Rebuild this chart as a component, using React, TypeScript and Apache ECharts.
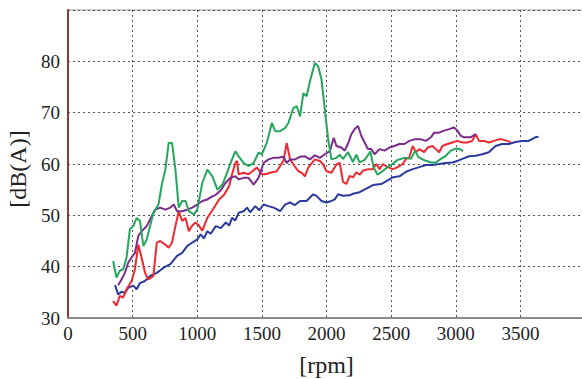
import React, { useEffect, useRef } from "react";
import * as echarts from "echarts";

const xTicks = [0, 500, 1000, 1500, 2000, 2500, 3000, 3500];
const yTicks = [30, 40, 50, 60, 70, 80];

const blueSeries: [number, number][] = [
  [364,36.4],[388,34.6],[414,35.1],[440,34.9],[466,35.9],[505,36.3],[531,35.6],[557,36.8],[596,37.2],[635,38.2],[687,38.8],[740,39.8],[792,40.5],[844,42.1],[883,42.7],[922,44.0],[961,44.7],[1000,45.3],[1026,46.3],[1052,45.5],[1078,46.9],[1104,46.4],[1143,47.9],[1182,47.5],[1221,48.6],[1247,48.0],[1269,49.5],[1295,49.0],[1320,50.5],[1359,50.8],[1385,51.5],[1410,50.6],[1449,51.8],[1480,51.0],[1513,52.1],[1550,51.8],[1590,51.5],[1615,51.2],[1641,50.8],[1679,52.1],[1718,52.5],[1756,52.0],[1795,52.8],[1846,52.8],[1897,54.1],[1923,53.8],[1961,52.8],[2000,52.5],[2038,52.8],[2064,53.1],[2090,54.1],[2128,53.8],[2179,53.9],[2205,54.2],[2256,54.5],[2308,55.2],[2359,55.9],[2423,56.1],[2474,56.8],[2513,57.4],[2564,57.6],[2615,58.5],[2667,59.0],[2718,59.4],[2769,59.8],[2820,59.8],[2872,60.0],[2923,60.2],[2974,60.3],[3013,60.6],[3051,61.0],[3103,61.5],[3154,61.6],[3205,61.9],[3256,62.3],[3308,63.5],[3359,63.9],[3410,63.9],[3462,64.3],[3513,64.5],[3564,64.5],[3615,65.2],[3640,65.3]
];

const redSeries: [number, number][] = [
  [349,33.3],[375,32.4],[401,34.3],[427,34.0],[453,35.6],[492,37.2],[518,39.5],[544,44.3],[570,41.7],[596,38.8],[622,37.5],[661,38.2],[687,44.7],[713,45.0],[753,44.3],[779,43.7],[805,44.7],[831,47.9],[857,50.8],[883,48.9],[909,49.5],[935,46.9],[961,48.0],[987,48.6],[1013,48.0],[1039,47.0],[1078,49.5],[1117,51.0],[1143,52.0],[1169,53.1],[1208,54.0],[1247,55.7],[1269,58.0],[1295,60.2],[1308,60.6],[1320,58.0],[1359,58.3],[1397,58.0],[1436,58.8],[1462,59.3],[1500,58.0],[1526,58.0],[1564,58.3],[1615,58.6],[1667,60.6],[1692,64.1],[1718,60.9],[1744,59.9],[1782,58.6],[1808,58.3],[1833,57.6],[1859,59.3],[1910,60.9],[1949,60.6],[1974,59.9],[2000,58.6],[2038,58.3],[2077,59.9],[2103,60.2],[2128,56.5],[2154,56.1],[2179,57.7],[2205,57.4],[2231,58.4],[2256,57.9],[2282,58.7],[2321,59.0],[2359,59.0],[2385,60.0],[2410,59.0],[2436,60.0],[2474,59.4],[2513,59.0],[2551,59.4],[2590,60.0],[2615,61.0],[2641,61.3],[2667,63.5],[2692,62.3],[2718,62.9],[2756,62.3],[2782,63.2],[2820,63.5],[2846,62.9],[2872,62.3],[2897,63.5],[2936,63.9],[2974,64.2],[3013,64.5],[3051,64.2],[3090,64.2],[3128,64.5],[3154,65.8],[3180,64.5],[3218,64.5],[3256,64.2],[3295,64.5],[3333,64.8],[3359,64.8],[3397,64.5],[3425,64.3]
];

const greenSeries: [number, number][] = [
  [349,41.1],[375,37.9],[401,39.2],[427,39.5],[453,41.8],[479,47.3],[505,47.9],[531,49.5],[557,48.9],[583,44.0],[609,45.3],[635,47.9],[661,50.5],[700,52.1],[726,56.0],[753,58.9],[779,64.1],[805,64.1],[831,58.9],[857,51.5],[883,52.8],[909,52.8],[935,50.8],[974,50.2],[1000,51.1],[1039,56.3],[1078,58.9],[1117,57.6],[1156,55.0],[1195,56.0],[1234,58.5],[1269,60.9],[1295,62.5],[1320,61.5],[1359,60.2],[1397,59.6],[1436,60.2],[1474,62.2],[1500,61.9],[1538,64.1],[1577,68.0],[1603,66.4],[1641,66.4],[1679,67.0],[1705,68.0],[1744,70.9],[1769,71.3],[1795,69.3],[1821,73.8],[1846,73.2],[1872,76.1],[1910,79.7],[1936,79.0],[1962,76.4],[1987,70.6],[2013,64.8],[2038,60.9],[2077,61.2],[2103,61.8],[2128,61.0],[2167,62.3],[2205,60.4],[2231,61.8],[2256,60.3],[2295,60.8],[2340,62.4],[2365,59.3],[2395,57.9],[2423,58.4],[2462,59.2],[2500,59.8],[2551,60.8],[2603,61.2],[2654,61.0],[2686,62.6],[2709,61.4],[2750,60.8],[2808,60.3],[2846,60.3],[2885,61.0],[2923,61.6],[2962,62.6],[3000,63.0],[3031,62.9],[3057,62.5]
];

const purpleSeries: [number, number][] = [
  [388,36.4],[414,37.5],[440,38.8],[466,40.8],[492,41.8],[518,42.7],[544,46.0],[570,46.9],[609,47.9],[635,49.2],[674,51.1],[713,51.5],[753,51.1],[792,51.5],[818,52.1],[844,50.8],[883,50.8],[922,51.1],[961,51.5],[1000,52.1],[1039,52.8],[1078,53.1],[1117,53.7],[1143,54.0],[1182,54.9],[1218,56.3],[1256,57.3],[1295,57.6],[1320,57.0],[1359,57.3],[1397,57.3],[1436,56.0],[1474,57.3],[1513,60.2],[1551,60.9],[1590,61.2],[1628,61.2],[1667,61.4],[1692,60.2],[1718,60.9],[1756,60.9],[1795,61.4],[1833,61.5],[1872,60.9],[1910,61.7],[1949,61.2],[1987,61.9],[2026,62.5],[2056,65.1],[2077,63.5],[2115,63.2],[2141,62.6],[2167,64.0],[2192,65.8],[2218,66.8],[2244,67.4],[2269,65.5],[2295,64.2],[2321,62.9],[2346,62.9],[2372,61.9],[2410,62.9],[2449,62.6],[2487,63.2],[2526,63.5],[2564,63.9],[2603,63.9],[2641,64.5],[2680,64.8],[2731,64.8],[2769,64.5],[2808,65.2],[2833,66.1],[2872,66.1],[2910,66.5],[2949,66.8],[2987,67.1],[3013,66.5],[3038,65.5],[3064,65.2],[3115,65.2],[3154,65.8]
];

const FONT = "Liberation Serif";

export default function App() {
  const ref = useRef<HTMLDivElement>(null);
  useEffect(() => {
    document.body.style.margin = "0";
    if (!ref.current) return;
    const chart = echarts.init(ref.current, undefined, { renderer: "svg" });
    const line = (data: [number, number][], color: string) => ({
      type: "line",
      data,
      showSymbol: false,
      symbol: "none",
      lineStyle: { color, width: 2 },
      itemStyle: { color },
    });
    chart.setOption({
      animation: false,
      backgroundColor: "#ffffff",
      grid: {
        left: 68,
        right: 0,
        top: 10,
        bottom: 61,
        outerBoundsMode: "none",
        containLabel: false,
        show: true,
        borderColor: "#9a9a9a",
        borderWidth: 1,
        backgroundColor: "transparent",
      },
      xAxis: {
        type: "value",
        min: xTicks[0],
        max: 4000,
        interval: 500,
        name: "[rpm]",
        nameLocation: "middle",
        nameGap: 35,
        nameTextStyle: { fontFamily: FONT, fontSize: 24, color: "#222" },
        axisLine: { show: true, lineStyle: { color: "#8a8a8a", width: 2 } },
        axisTick: { show: false },
        axisLabel: {
          fontFamily: FONT,
          fontSize: 19,
          color: "#222",
          margin: 6,
          showMaxLabel: false,
          formatter: (v: number) => String(v),
        },
        splitLine: {
          show: true,
          lineStyle: { color: "#555", type: [2, 3], width: 1 },
        },
      },
      yAxis: {
        type: "value",
        min: yTicks[0],
        max: 90,
        interval: 10,
        name: "[dB(A)]",
        nameLocation: "middle",
        nameGap: 38,
        nameRotate: 90,
        nameTextStyle: { fontFamily: FONT, fontSize: 24, color: "#222", padding: [0, 10, 0, 0] },
        axisLine: { show: true, lineStyle: { color: "#8b3a3a", width: 2 } },
        axisTick: { show: false },
        axisLabel: {
          fontFamily: FONT,
          fontSize: 19,
          color: "#222",
          margin: 8,
          showMaxLabel: false,
          formatter: (v: number) => String(v),
        },
        splitLine: {
          show: true,
          lineStyle: { color: "#555", type: [2, 3], width: 1 },
        },
      },
      series: [
        line(blueSeries, "#2b3a9e"),
        line(redSeries, "#ee2a30"),
        line(purpleSeries, "#7a2b8c"),
        line(greenSeries, "#25a65c"),
      ],
    });
    return () => chart.dispose();
  }, []);
  return (
    <div style={{ position: "fixed", left: 0, top: 0, width: 582, height: 379, overflow: "hidden", background: "#fff" }}>
      <div ref={ref} style={{ width: 585, height: 379 }} />
    </div>
  );
}
